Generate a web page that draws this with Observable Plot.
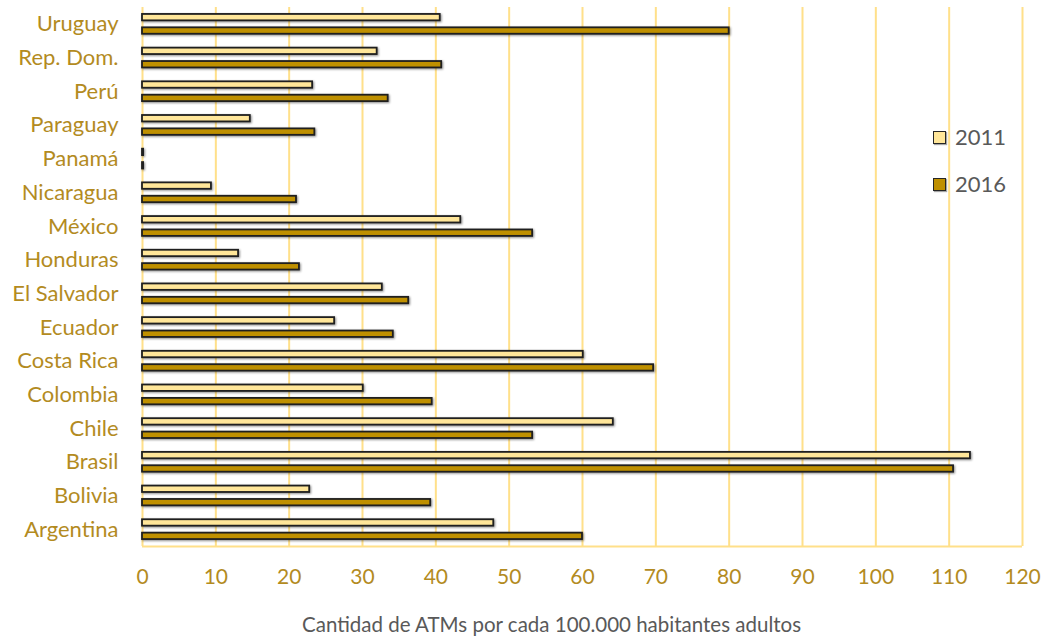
<!DOCTYPE html>
<html>
<head>
<meta charset="utf-8">
<script src="https://cdn.jsdelivr.net/npm/d3@7"></script>
<script src="https://cdn.jsdelivr.net/npm/@observablehq/plot@0.6"></script>
<style>
  body { margin: 0; background: #fff; }
  #chart { position: relative; width: 1045px; height: 636px; }
  #chart svg { display: block; }
  #chart svg g[aria-label="bar"] rect { filter: drop-shadow(1px 1px 1px rgba(0,0,0,0.45)); }
  .legend { position: absolute; left: 933px; font-family: Lato, sans-serif; font-size: 22px; color: #595959; line-height: 22px; }
  .legend .item { display: flex; align-items: center; height: 22px; margin-bottom: 25px; }
  .legend .sw { width: 11px; height: 11px; border: 1.5px solid #262626; margin-right: 9px; box-shadow: 1px 1px 1px rgba(0,0,0,0.35); }
</style>
</head>
<body>
<div id="chart"></div>
<script>
const countries = ["Uruguay","Rep. Dom.","Perú","Paraguay","Panamá","Nicaragua","México","Honduras","El Salvador","Ecuador","Costa Rica","Colombia","Chile","Brasil","Bolivia","Argentina"];
const years = ["2011","2016"];
const values2011 = [40.6, 32.0, 23.2, 14.7, 0.15, 9.4, 43.4, 13.1, 32.7, 26.2, 60.1, 30.1, 64.2, 112.9, 22.8, 47.9];
const values2016 = [80.0, 40.8, 33.5, 23.5, 0.15, 21.0, 53.2, 21.4, 36.3, 34.2, 69.7, 39.5, 53.2, 110.6, 39.3, 60.0];
const xTicks = [0,10,20,30,40,50,60,70,80,90,100,110,120];
const colors = ["#FFE699", "#BF9000"];
const xTitle = "Cantidad de ATMs por cada 100.000 habitantes adultos";

const rows = [];
countries.forEach((c, i) => {
  rows.push({country: c, year: years[0], value: values2011[i]});
  rows.push({country: c, year: years[1], value: values2016[i]});
});

const marginTop = 7, marginBottom = 90, H = 636;
const band = (H - marginTop - marginBottom) / countries.length;
const half = band / 2;
const barH = 6.4, gap = 3.5;

const labelColor = "#B38B1F";

const chart = Plot.plot({
  width: 1045,
  height: H,
  marginTop,
  marginBottom,
  marginLeft: 142,
  marginRight: 23,
  style: { fontFamily: "Lato, sans-serif", background: "#fff" },
  x: { domain: [0, 120], ticks: xTicks, label: null },
  y: { domain: countries, padding: 0, round: false, label: null },
  color: { domain: years, range: colors },
  marks: [
    Plot.ruleX(xTicks, { stroke: "#FFE08A", strokeWidth: 2 }),
    Plot.ruleY([countries[countries.length - 1]], { stroke: "#FFE08A", strokeWidth: 2, dy: half, x1: 0, x2: 120 }),
    Plot.barX(rows.filter(d => d.year === years[0]), {
      x: "value", y: "country", fill: "year", stroke: "#1f1f1f", strokeWidth: 1.8,
      insetTop: half - gap - barH, insetBottom: half + gap
    }),
    Plot.barX(rows.filter(d => d.year === years[1]), {
      x: "value", y: "country", fill: "year", stroke: "#1f1f1f", strokeWidth: 1.8,
      insetTop: half + gap, insetBottom: half - gap - barH
    }),
    Plot.axisX({ ticks: xTicks, tickSize: 0, tickPadding: 23, fontSize: 21, fill: labelColor, label: null }),
    Plot.axisY({ tickSize: 0, tickPadding: 24, fontSize: 22, fill: labelColor, label: null }),
    Plot.text([xTitle], { frameAnchor: "bottom", dy: 85, dx: -31, fontSize: 20.5, fill: "#595959" })
  ]
});

const root = document.getElementById("chart");
root.appendChild(chart);

const legend = document.createElement("div");
legend.className = "legend";
legend.style.top = "126px";
years.forEach((y, i) => {
  const item = document.createElement("div");
  item.className = "item";
  const sw = document.createElement("div");
  sw.className = "sw";
  sw.style.background = colors[i];
  const t = document.createElement("span");
  t.textContent = y;
  item.appendChild(sw);
  item.appendChild(t);
  legend.appendChild(item);
});
root.appendChild(legend);
</script>
</body>
</html>
